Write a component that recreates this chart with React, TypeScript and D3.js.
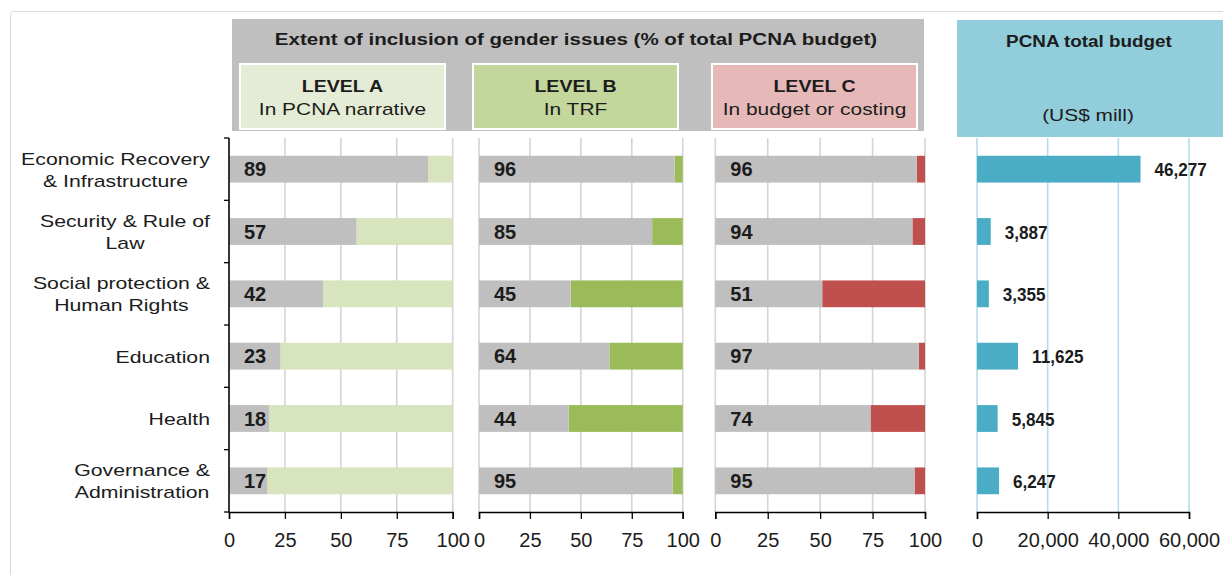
import React, { useEffect, useRef } from 'react';
import * as d3 from 'd3';

// sector labels, one entry per line
const sectors = [
  ['Economic Recovery', '& Infrastructure'],
  ['Security & Rule of', 'Law'],
  ['Social protection &', 'Human Rights'],
  ['Education'],
  ['Health'],
  ['Governance &', 'Administration'],
];
const levelA = [89, 57, 42, 23, 18, 17];
const levelB = [96, 85, 45, 64, 44, 95];
const levelC = [96, 94, 51, 97, 74, 95];
const budget = [46277, 3887, 3355, 11625, 5845, 6247];

const levelNames = ['LEVEL A', 'LEVEL B', 'LEVEL C'];
const levelNotes = ['In PCNA narrative', 'In TRF', 'In budget or costing'];
const pctTicks = [0, 25, 50, 75, 100];
const budgetTicks = [0, 20000, 40000, 60000];

const FONT = "'Liberation Sans', Arial, sans-serif";
const INK = '#1c1c1c';

export default function App() {
  const ref = useRef<SVGSVGElement>(null);

  useEffect(() => {
    const svg = d3.select(ref.current);
    svg.selectAll('*').remove();

    const top = 138;
    const bottom = 512;

    function txt(parent: any, s: string, x: number, y: number, size: number, weight: string, anchor: string, sx: number) {
      return parent.append('text')
        .attr('transform', `translate(${x},${y}) scale(${sx},1)`)
        .attr('text-anchor', anchor)
        .attr('font-family', FONT)
        .attr('font-size', size)
        .attr('font-weight', weight)
        .attr('fill', INK)
        .text(s);
    }

    // outer frame
    svg.append('rect')
      .attr('x', 10.5).attr('y', 11.5).attr('width', 1240).attr('height', 620)
      .attr('rx', 3).attr('fill', 'white').attr('stroke', '#d6d9e6');

    // header boxes
    svg.append('rect').attr('x', 232).attr('y', 19).attr('width', 692).attr('height', 112).attr('fill', '#bfbfbf');
    txt(svg, 'Extent of inclusion of gender issues (% of total PCNA budget)', 576, 45, 17, 'bold', 'middle', 1.21);

    const levelFill = ['#e4ecd5', '#c3d69b', '#e6b9b8'];
    const levelBox = [240, 473, 712];
    levelBox.forEach((bx, i) => {
      svg.append('rect').attr('x', bx).attr('y', 64).attr('width', 205).attr('height', 65)
        .attr('fill', levelFill[i]).attr('stroke', 'white').attr('stroke-width', 2);
      txt(svg, levelNames[i], bx + 102.5, 92, 17, 'bold', 'middle', 1.15);
      txt(svg, levelNotes[i], bx + 102.5, 115, 17, 'normal', 'middle', 1.23);
    });

    svg.append('rect').attr('x', 957).attr('y', 20).attr('width', 270).attr('height', 117).attr('fill', '#92cddc');
    txt(svg, 'PCNA total budget', 1089, 47, 17, 'bold', 'middle', 1.11);
    txt(svg, '(US$ mill)', 1088, 121, 17, 'normal', 'middle', 1.23);

    const y = d3.scaleBand<number>()
      .domain(d3.range(sectors.length))
      .range([top, bottom])
      .paddingInner(0.57)
      .paddingOuter(0.285);

    // percentage panels
    const panels = [
      { values: levelA, x0: 229, x1: 452.7, fill: '#d7e4bd' },
      { values: levelB, x0: 479, x1: 682.7, fill: '#9bbb59' },
      { values: levelC, x0: 715.3, x1: 925, fill: '#c0504d' },
    ];

    panels.forEach((p, pi) => {
      const x = d3.scaleLinear().domain([0, 100]).range([p.x0, p.x1]);
      const g = svg.append('g');

      g.selectAll('line.grid').data(pctTicks).enter().append('line')
        .attr('x1', d => x(d)).attr('x2', d => x(d))
        .attr('y1', top).attr('y2', bottom)
        .attr('stroke', '#d4d4d4').attr('stroke-width', 1.6);

      g.selectAll('rect.rest').data(p.values).enter().append('rect')
        .attr('x', d => x(d)).attr('y', (d, i) => y(i)!)
        .attr('width', d => x(100) - x(d)).attr('height', y.bandwidth())
        .attr('fill', p.fill);

      g.selectAll('rect.val').data(p.values).enter().append('rect')
        .attr('x', x(0)).attr('y', (d, i) => y(i)!)
        .attr('width', d => x(d) - x(0)).attr('height', y.bandwidth())
        .attr('fill', '#bfbfbf');

      p.values.forEach((v, i) => {
        txt(g, String(v), x(0) + 15, y(i)! + y.bandwidth() / 2 + 7, 20, 'bold', 'start', 1);
      });

      const ax = g.append('g').attr('transform', `translate(0,${bottom})`)
        .call(d3.axisBottom(x).tickValues(pctTicks).tickSize(7).tickPadding(14));
      ax.select('.domain').attr('stroke', '#000').attr('stroke-width', 1.5);
      ax.selectAll('.tick line').attr('stroke', '#000').attr('stroke-width', 1.3);
      ax.selectAll('.tick text').attr('font-family', FONT).attr('font-size', 20).attr('fill', INK);

      if (pi === 0) {
        const bounds = d3.range(sectors.length + 1).map(i => top + i * y.step());
        g.append('line').attr('x1', x(0)).attr('x2', x(0)).attr('y1', top).attr('y2', bottom)
          .attr('stroke', '#000').attr('stroke-width', 1.5);
        g.selectAll('line.ytick').data(bounds).enter().append('line')
          .attr('x1', x(0) - 5).attr('x2', x(0)).attr('y1', d => d).attr('y2', d => d)
          .attr('stroke', '#000').attr('stroke-width', 1.3);
      }
    });

    // budget panel
    const xb = d3.scaleLinear().domain([0, 60000]).range([977, 1189]);
    const gb = svg.append('g');
    gb.selectAll('line.grid').data(budgetTicks).enter().append('line')
      .attr('x1', d => xb(d)).attr('x2', d => xb(d))
      .attr('y1', top).attr('y2', bottom)
      .attr('stroke', '#b7dde8').attr('stroke-width', 1.6);
    gb.selectAll('rect.b').data(budget).enter().append('rect')
      .attr('x', xb(0)).attr('y', (d, i) => y(i)!)
      .attr('width', d => xb(d) - xb(0)).attr('height', y.bandwidth())
      .attr('fill', '#4bacc6');
    budget.forEach((v, i) => {
      txt(gb, d3.format(',')(v), xb(v) + 14, y(i)! + y.bandwidth() / 2 + 7, 19, 'bold', 'start', 0.9);
    });
    const axb = gb.append('g').attr('transform', `translate(0,${bottom})`)
      .call(d3.axisBottom(xb).tickValues(budgetTicks).tickFormat(d3.format(',') as any).tickSize(7).tickPadding(14));
    axb.select('.domain').attr('stroke', '#000').attr('stroke-width', 1.5);
    axb.selectAll('.tick line').attr('stroke', '#000').attr('stroke-width', 1.3);
    axb.selectAll('.tick text').attr('font-family', FONT).attr('font-size', 20).attr('fill', INK);

    // sector labels: lines centred on each other, block right-aligned
    const sx = 1.25;
    sectors.forEach((lines, i) => {
      const cy = y(i)! + y.bandwidth() / 2;
      const lh = 21.7;
      const made = lines.map((s, k) =>
        txt(svg, s, 0, 0, 17, 'normal', 'middle', sx));
      const w = d3.max(made, (t: any) => (t.node() as SVGTextElement).getComputedTextLength())! * sx;
      const cx = 210 - w / 2;
      made.forEach((t: any, k: number) => {
        const by = cy + (k - (lines.length - 1) / 2) * lh + 6.5;
        t.attr('transform', `translate(${cx},${by}) scale(${sx},1)`);
      });
    });
  }, []);

  return (
    <svg ref={ref} width={1223} height={575}
      style={{ position: 'absolute', left: 0, top: 0, display: 'block' }} />
  );
}
